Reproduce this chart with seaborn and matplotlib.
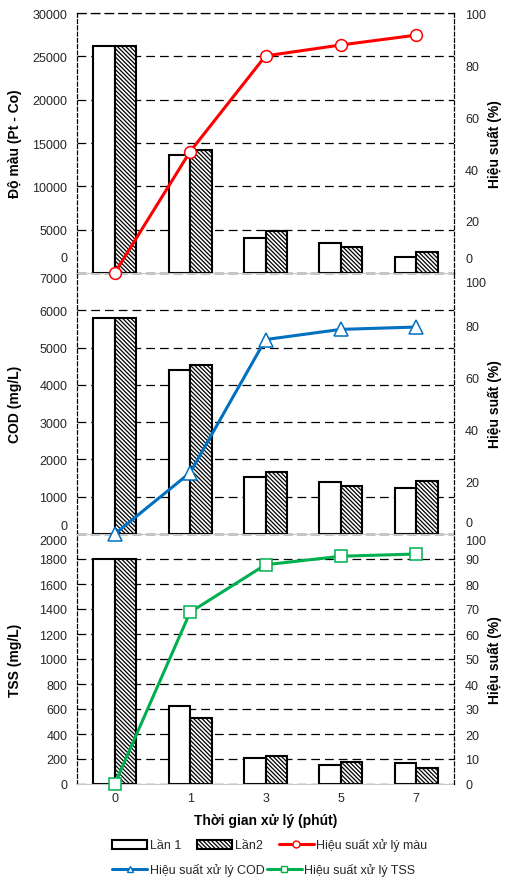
import numpy as np
import pandas as pd
import matplotlib
matplotlib.use("Agg")
import matplotlib.pyplot as plt
import seaborn as sns
from matplotlib.patches import Patch
from matplotlib.lines import Line2D
from matplotlib.ticker import FixedLocator, FuncFormatter

# ---- data -------------------------------------------------------------
times = ["0", "1", "3", "5", "7"]
run_names = ["Lần 1", "Lần2"]

color_run1 = [26200, 13600, 4000, 3450, 1850]
color_run2 = [26200, 14200, 4850, 3000, 2400]
color_eff = [0, 46.7, 83.5, 87.7, 91.5]

cod_run1 = [5780, 4400, 1530, 1390, 1230]
cod_run2 = [5780, 4540, 1660, 1290, 1420]
cod_eff = [0, 23.5, 74.5, 78.4, 79.3]

tss_run1 = [1800, 625, 210, 150, 165]
tss_run2 = [1800, 530, 225, 180, 130]
tss_eff = [0, 68.7, 87.7, 91.1, 92.0]

left_ticks = [list(range(0, 30001, 5000)), list(range(0, 7001, 1000)), list(range(0, 2001, 200))]
right_ticks = [list(range(0, 101, 20)), list(range(0, 101, 20)), list(range(0, 101, 10))]
left_titles = ["Độ màu (Pt - Co)", "COD (mg/L)", "TSS (mg/L)"]
right_title = "Hiệu suất (%)"
xlabel = "Thời gian xử lý (phút)"
eff_names = ["Hiệu suất xử lý màu", "Hiệu suất xử lý COD", "Hiệu suất xử lý TSS"]

# ---- style ------------------------------------------------------------
sns.set_theme(style="white")
plt.rcParams["font.family"] = ["Liberation Sans", "DejaVu Sans"]
plt.rcParams["hatch.linewidth"] = 0.9
HATCH = "\\" * 8
TICK_COLOR = "#262626"
TICK_SIZE = 9
GRID_DASH = (0, (7, 4))
SPINE_DASH = (0, (3, 2))

line_styles = [
    dict(color="#FF0000", marker="o", markersize=8.5),
    dict(color="#0070C0", marker="^", markersize=10),
    dict(color="#00B050", marker="s", markersize=8.5),
]

fig = plt.figure(figsize=(5.11, 8.79), dpi=100)
W, H = 511, 879
x0, x1 = 77, 454
bands = [(14, 274), (274, 535), (535, 785)]

# label nudges in points: {tick value: vertical offset}
left_nudge = [{0: 11}, {7000: -4, 0: 6}, {2000: -5}]
right_nudge = [{0: 10}, {100: -7, 0: 8}, {100: -5}]


def set_ticks(ax, values, nudges, side):
    ax.yaxis.set_major_locator(FixedLocator(values))
    hidden = set(nudges)
    ax.yaxis.set_major_formatter(
        FuncFormatter(lambda v, p: "" if int(round(v)) in hidden else f"{v:.0f}")
    )
    for v, dy in nudges.items():
        if side == "left":
            ax.annotate(f"{v}", xy=(0, v), xycoords=("axes fraction", "data"),
                        xytext=(-7, dy), textcoords="offset points", ha="right",
                        va="center", fontsize=TICK_SIZE, color=TICK_COLOR,
                        annotation_clip=False)
        else:
            ax.annotate(f"{v}", xy=(1, v), xycoords=("axes fraction", "data"),
                        xytext=(8, dy), textcoords="offset points", ha="left",
                        va="center", fontsize=TICK_SIZE, color=TICK_COLOR,
                        annotation_clip=False)


panels = [
    (color_run1, color_run2, color_eff),
    (cod_run1, cod_run2, cod_eff),
    (tss_run1, tss_run2, tss_eff),
]

for i in [2, 1, 0]:
    run1, run2, eff = panels[i]
    top, bottom = bands[i]
    ax = fig.add_axes([x0 / W, 1 - bottom / H, (x1 - x0) / W, (bottom - top) / H])
    ax.patch.set_alpha(0)

    df = pd.DataFrame({
        "time": times * 2,
        "value": run1 + run2,
        "run": [run_names[0]] * len(times) + [run_names[1]] * len(times),
    })
    sns.barplot(data=df, x="time", y="value", hue="run", palette=["white", "white"],
                saturation=1, edgecolor="black", linewidth=1.5, width=0.57, gap=0,
                errorbar=None, legend=False, ax=ax)
    for patch in ax.containers[1]:
        patch.set_hatch(HATCH)

    ax.set_xlim(-0.5, len(times) - 0.5)
    ax.set_ylim(left_ticks[i][0], left_ticks[i][-1])
    ax.set_axisbelow(True)
    ax.yaxis.grid(True, color="black", linestyle=GRID_DASH, linewidth=0.9)
    ax.xaxis.grid(False)
    set_ticks(ax, left_ticks[i], left_nudge[i], "left")
    ax.tick_params(axis="y", length=0, pad=7, labelsize=TICK_SIZE, labelcolor=TICK_COLOR)
    ax.tick_params(axis="x", length=0, pad=6, labelsize=TICK_SIZE, labelcolor=TICK_COLOR)
    ax.set_ylabel(left_titles[i], fontsize=10, fontweight="bold", color="black")
    ax.yaxis.set_label_coords((22 - x0) / (x1 - x0), 0.5)

    ax.spines["right"].set_visible(False)
    ax.spines["left"].set_linestyle(SPINE_DASH)
    ax.spines["left"].set_color("black")
    ax.spines["left"].set_linewidth(0.9)
    ax.spines["top"].set_linestyle(GRID_DASH)
    ax.spines["top"].set_color("black")
    ax.spines["top"].set_linewidth(0.9)
    ax.spines["bottom"].set_color("#c8c8c8")
    ax.spines["bottom"].set_linewidth(0.8)

    if i == 2:
        ax.set_xlabel(xlabel, fontsize=10, fontweight="bold", color="black", labelpad=6)
    else:
        ax.set_xticklabels([])
        ax.set_xlabel("")

    ax2 = ax.twinx()
    st = line_styles[i]
    sns.lineplot(x=np.arange(len(times)), y=eff, ax=ax2, color=st["color"],
                 linewidth=2.2, marker=st["marker"], markersize=st["markersize"],
                 markerfacecolor="white", markeredgecolor=st["color"],
                 markeredgewidth=1.1, clip_on=False, legend=False, zorder=5)
    ax2.set_ylim(0, 100)
    set_ticks(ax2, right_ticks[i], right_nudge[i], "right")
    ax2.tick_params(axis="y", length=0, pad=8, labelsize=TICK_SIZE, labelcolor=TICK_COLOR)
    ax2.set_ylabel(right_title, fontsize=10, fontweight="bold", color="black")
    ax2.yaxis.set_label_coords((488 - x0) / (x1 - x0), 0.5)
    for s in ["left", "top", "bottom"]:
        ax2.spines[s].set_visible(False)
    ax2.spines["right"].set_linestyle(SPINE_DASH)
    ax2.spines["right"].set_color("black")
    ax2.spines["right"].set_linewidth(0.9)
    ax2.grid(False)

# ---- legend -----------------------------------------------------------
def eff_handle(k):
    st = line_styles[k]
    return Line2D([], [], color=st["color"], linewidth=2.2, marker=st["marker"],
                  markersize=5, markerfacecolor="white", markeredgecolor=st["color"],
                  markeredgewidth=1.0, label=eff_names[k])

row1 = [
    Patch(facecolor="white", edgecolor="black", linewidth=1.5, label=run_names[0]),
    Patch(facecolor="white", edgecolor="black", linewidth=1.5, hatch=HATCH, label=run_names[1]),
    eff_handle(0),
]
row2 = [eff_handle(1), eff_handle(2)]

common = dict(frameon=False, fontsize=9, handlelength=2.8, handletextpad=0.2,
              borderpad=0, borderaxespad=0, loc="center left")
fig.legend(handles=row1, ncol=3, columnspacing=1.3,
           bbox_to_anchor=(112 / W, 1 - 846 / H), **common)
fig.legend(handles=row2, ncol=2, columnspacing=0.2,
           bbox_to_anchor=(112 / W, 1 - 871 / H), **common)

fig.savefig("out.png", dpi=100)
